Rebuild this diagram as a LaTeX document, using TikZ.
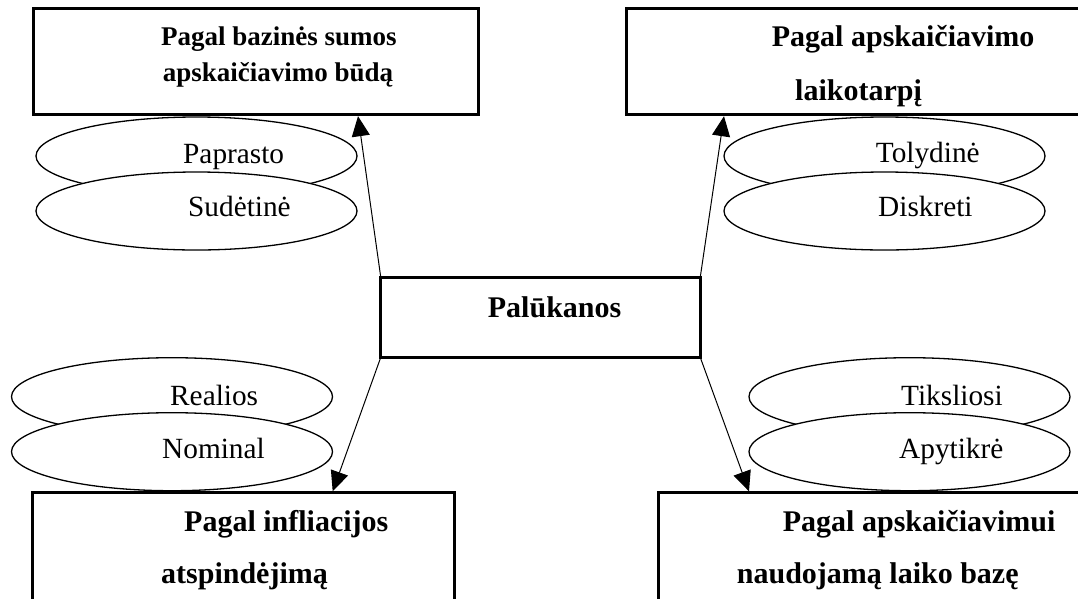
\documentclass[tikz,border=0pt]{standalone}
\usepackage{fontspec}
\setmainfont{Liberation Serif}
\usetikzlibrary{shapes.geometric,arrows.meta}
\begin{document}
\begin{tikzpicture}[x=1pt,y=-1pt,
  box/.style={draw,line width=2.7pt,rectangle,inner sep=0pt,outer sep=0pt},
  oval/.style={draw,fill=white,line width=1.3pt,ellipse,inner sep=0pt,outer sep=0pt,
    minimum width=321pt,minimum height=78pt},
  plain/.style={anchor=base west,inner sep=0pt,font=\fontsize{29.3}{35}\selectfont},
  head/.style={anchor=base west,inner sep=0pt,font=\fontsize{30}{36}\selectfont\bfseries},
  smallhead/.style={anchor=base west,inner sep=0pt,font=\fontsize{27}{32}\selectfont\bfseries},
  link/.style={line width=1pt,-{Triangle[length=20pt,width=18pt]}}]
\clip (0,0) rectangle (1078,598);

% category boxes
\node[box,minimum width=444.5pt,minimum height=106.1pt] (tl) at (256.05,61.75) {};
\node[box,minimum width=473.3pt,minimum height=106.1pt] (tr) at (863.35,61.75) {};
\node[box,minimum width=319.4pt,minimum height=79.7pt] (ctr) at (540.5,317.35) {};
\node[box,minimum width=422.4pt,minimum height=127.3pt] (bl) at (243.5,556.35) {};
\node[box,minimum width=441.3pt,minimum height=127.3pt] (br) at (879.35,556.35) {};

% box titles
\node[smallhead] (tl1) at (161,45.7) {Pagal bazinės sumos};
\node[smallhead] (tl2) at (162.7,81) {apskaičiavimo būdą};
\node[head] (tr1) at (771.7,46.7) {Pagal apskaičiavimo};
\node[head] (tr2) at (795,100) {laikotarpį};
\node[head] (ctrt) at (487.7,317) {Palūkanos};
\node[head] (bl1) at (184,531.7) {Pagal infliacijos};
\node[head] (bl2) at (161,583) {atspindėjimą};
\node[head] (br1) at (782.7,531.7) {Pagal apskaičiavimui};
\node[head] (br2) at (736.7,583) {naudojamą laiko bazę};

% ellipse pairs (lower one overlaps the upper one)
\node[oval] (p1) at (196.5,156) {};
\node[plain] (p1t) at (183,163.3) {Paprasto};
\node[oval] (p2) at (196.5,211) {};
\node[plain] (p2t) at (188,216) {Sudėtinė};

\node[oval] (t1) at (884.5,156) {};
\node[plain] (t1t) at (875.7,162.3) {Tolydinė};
\node[oval] (t2) at (884.5,211) {};
\node[plain] (t2t) at (878,216.7) {Diskreti};

\node[oval] (r1) at (172,396.7) {};
\node[plain] (r1t) at (170,405) {Realios};
\node[oval] (r2) at (172,451.7) {};
\node[plain] (r2t) at (162,458.3) {Nominal};

\node[oval] (k1) at (909.5,396.7) {};
\node[plain] (k1t) at (901,405) {Tiksliosi};
\node[oval] (k2) at (909.5,451.7) {};
\node[plain] (k2t) at (899,458.3) {Apytikrė};

% arrows from the central box
\draw[link] (ctr.north west) -- ([xshift=324.2pt,yshift=-1.4pt]tl.south west);
\draw[link] (ctr.north east) -- ([xshift=97.3pt,yshift=-1.4pt]tr.south west);
\draw[link] (ctr.south west) -- ([xshift=300.4pt,yshift=1.4pt]bl.north west);
\draw[link] (ctr.south east) -- ([xshift=90.3pt,yshift=1.4pt]br.north west);
\end{tikzpicture}
\end{document}
